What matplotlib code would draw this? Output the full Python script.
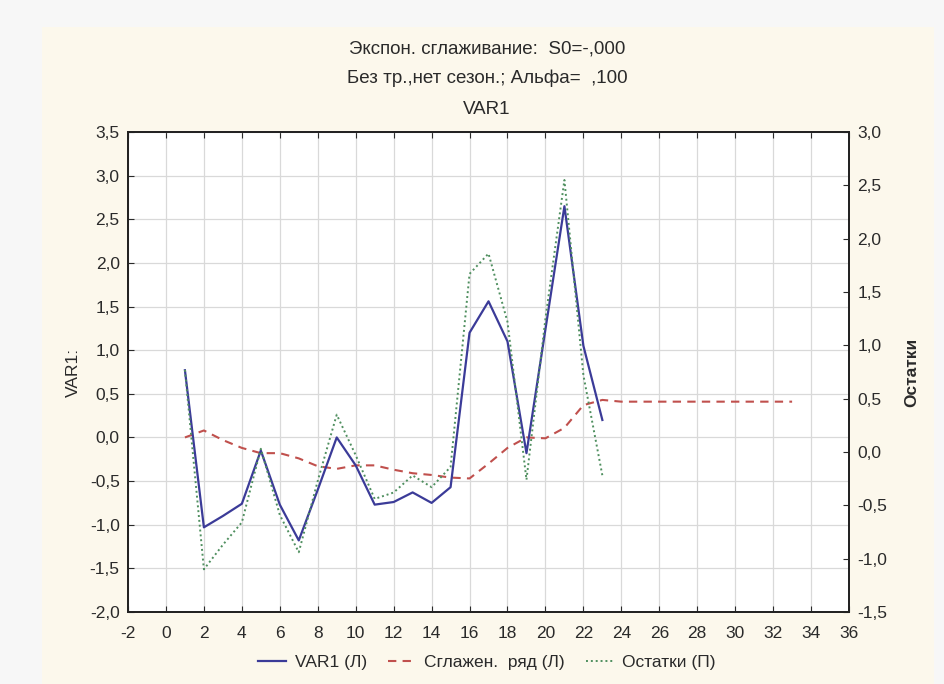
import matplotlib
matplotlib.use("Agg")
import matplotlib.pyplot as plt
from matplotlib.patches import Rectangle
from matplotlib.ticker import FuncFormatter, MultipleLocator

plt.rcParams["font.family"] = ["Liberation Sans", "DejaVu Sans"]
plt.rcParams["axes.unicode_minus"] = False

# time index for observed values and for the smoothed series (forecast tail)
t_obs = list(range(1, 24))
t_smooth = list(range(1, 34))

var1 = [0.77, -1.03, -0.90, -0.76, -0.15, -0.77, -1.18, -0.60, 0.00, -0.32,
        -0.77, -0.74, -0.63, -0.75, -0.57, 1.20, 1.56, 1.10, -0.18, 1.24,
        2.65, 1.05, 0.20]

smoothed = [0.00, 0.08, -0.03, -0.12, -0.18, -0.18, -0.24, -0.33, -0.36, -0.32,
            -0.32, -0.37, -0.41, -0.43, -0.46, -0.47, -0.30, -0.12, 0.00, -0.01,
            0.11, 0.37, 0.43, 0.41, 0.41, 0.41, 0.41, 0.41, 0.41, 0.41,
            0.41, 0.41, 0.41]

residuals = [0.77, -1.10, -0.87, -0.66, 0.03, -0.59, -0.94, -0.27, 0.35, -0.03,
             -0.44, -0.38, -0.22, -0.33, -0.14, 1.67, 1.86, 1.22, -0.26, 1.25,
             2.55, 0.72, -0.22]

title_lines = ["Экспон. сглаживание:  S0=-,000",
               "Без тр.,нет сезон.; Альфа=  ,100",
               "VAR1"]

TEXT = "#2a2a2a"


def comma(v, pos):
    return f"{v:.1f}".replace(".", ",")


fig = plt.figure(figsize=(9.44, 6.84), dpi=100, facecolor="#f7f7f7")
# beige panel behind the chart
fig.patches.append(Rectangle((0.045, 0.0), 0.944, 0.96, transform=fig.transFigure,
                             facecolor="#fcf8ec", edgecolor="none", zorder=-10))

ax = fig.add_axes([0.1356, 0.1053, 0.7638, 0.7017])
ax.set_facecolor("white")
ax2 = ax.twinx()

l1, = ax.plot(t_obs, var1, color="#3b3b98", lw=1.6, label="VAR1 (Л)", zorder=4)
l2, = ax.plot(t_smooth, smoothed, color="#c0504d", lw=1.5, ls=(0, (4, 3)),
              label="Сглажен.  ряд (Л)", zorder=3)
l3, = ax2.plot(t_obs, residuals, color="#4f8f5f", lw=1.4, ls=(0, (1, 1.5)),
               label="Остатки (П)", zorder=3)

ax.set_xlim(-2, 36)
ax.set_ylim(-2.0, 3.5)
ax2.set_ylim(-1.5, 3.0)
ax.xaxis.set_major_locator(MultipleLocator(2))
ax.yaxis.set_major_locator(MultipleLocator(0.5))
ax2.yaxis.set_major_locator(MultipleLocator(0.5))
ax.yaxis.set_major_formatter(FuncFormatter(comma))
ax2.yaxis.set_major_formatter(FuncFormatter(comma))

ax.grid(True, color="#d9d9d9", lw=0.9)
ax.tick_params(axis="x", direction="in", length=4, top=True, labelsize=12.5,
               colors=TEXT, pad=10)
ax.tick_params(axis="y", direction="in", length=4, labelsize=12.5, colors=TEXT, pad=6)
ax2.tick_params(axis="y", direction="in", length=4, labelsize=12.5, colors=TEXT, pad=6)
for a in (ax, ax2):
    for s in a.spines.values():
        s.set_color("#222222")
        s.set_linewidth(1.3)

ax.set_ylabel("VAR1:", fontsize=12.5, color=TEXT, labelpad=6)
ax2.set_ylabel("Остатки", fontsize=12.5, color=TEXT, labelpad=12, fontweight="bold")

for y, line in zip([0.928, 0.885, 0.840], title_lines):
    fig.text(0.516, y, line, ha="center", va="center", fontsize=13.5, color=TEXT)

fig.legend(handles=[l1, l2, l3], loc="center", bbox_to_anchor=(0.516, 0.032),
           ncol=3, frameon=False, fontsize=12.5, handlelength=1.6, columnspacing=1.2,
           handletextpad=0.5, labelcolor=TEXT)

fig.savefig("out.png", dpi=100, facecolor=fig.get_facecolor())
